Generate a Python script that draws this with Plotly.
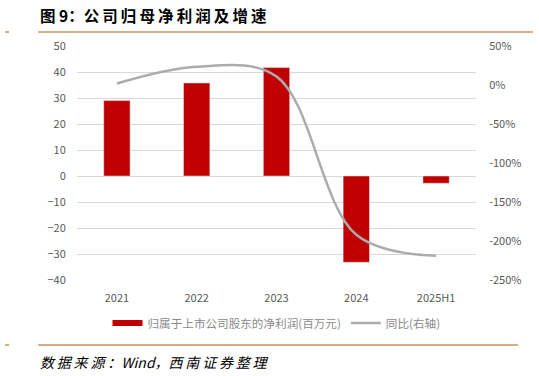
import plotly.graph_objects as go

categories = ["2021", "2022", "2023", "2024", "2025H1"]
net_profit = [29.0, 35.8, 41.7, -33.2, -2.8]
yoy_pct = [2.0, 23.5, 11.0, -192.0, -219.0]
left_ticks = [-40, -30, -20, -10, 0, 10, 20, 30, 40, 50]
right_ticks = [-250, -200, -150, -100, -50, 0, 50]
right_labels = [f"{v}%" for v in right_ticks]

W, H = 539, 376
L, R, T, B = 77, 476, 46, 280

def px(x):
    return (x - L) / (R - L)

def py(y):
    return (B - y) / (B - T)

fig = go.Figure()
fig.add_trace(go.Bar(x=categories, y=net_profit, marker_color="#c00000",
                     width=0.33, showlegend=False, yaxis="y"))
fig.add_trace(go.Scatter(x=[None], y=[None], mode="lines",
                         line=dict(color="#c00000", width=6),
                         name="归属于上市公司股东的净利润(百万元)"))
fig.add_trace(go.Scatter(x=categories, y=yoy_pct, mode="lines", yaxis="y2",
                         line=dict(color="#acacac", width=2.5, shape="spline", smoothing=1.0),
                         name="同比(右轴)"))

gold = "#c8965a"
shapes = [
    dict(type="line", xref="paper", yref="paper", x0=px(38), x1=px(533), y0=py(32), y1=py(32),
         line=dict(color=gold, width=1.5)),
    dict(type="line", xref="paper", yref="paper", x0=px(5), x1=px(9), y0=py(32), y1=py(32),
         line=dict(color=gold, width=1.5)),
    dict(type="line", xref="paper", yref="paper", x0=px(38), x1=px(518), y0=py(345), y1=py(345),
         line=dict(color=gold, width=1.5)),
    dict(type="line", xref="paper", yref="paper", x0=px(5), x1=px(9), y0=py(345), y1=py(345),
         line=dict(color=gold, width=1.5)),
]

ts = "\u2009"
title_text = "图 9：" + ts.join("公司归母净利润及增速")
source_text = ts.join("数据来源：") + "Wind，" + ts.join("西南证券整理")

annotations = [
    dict(text="<b>" + title_text + "</b>", xref="paper", yref="paper", x=px(38), y=py(15),
         xanchor="left", yanchor="middle", showarrow=False,
         font=dict(family="Noto Sans CJK SC", size=15.5, color="#000000")),
    dict(text="<i>" + source_text + "</i>", xref="paper", yref="paper", x=px(38), y=py(362),
         xanchor="left", yanchor="middle", showarrow=False,
         font=dict(family="Noto Sans CJK SC", size=14, color="#000000")),
]

fig.update_layout(
    width=W, height=H,
    margin=dict(l=L, r=W - R, t=T, b=H - B),
    paper_bgcolor="white", plot_bgcolor="white",
    font=dict(family="Noto Sans CJK SC", size=11, color="#595959"),
    bargap=0.67,
    xaxis=dict(showgrid=False, showline=False, ticks="outside", ticklen=8,
               tickcolor="rgba(0,0,0,0)", tickfont=dict(size=11, color="#595959")),
    yaxis=dict(range=[-40, 50], tickvals=left_ticks, showgrid=True, gridcolor="#d9d9d9",
               gridwidth=1, zeroline=False, ticks="outside", ticklen=8,
               tickcolor="rgba(0,0,0,0)", showline=False,
               tickfont=dict(size=11, color="#595959")),
    yaxis2=dict(range=[-250, 50], tickvals=right_ticks, ticktext=right_labels, overlaying="y",
                side="right", showgrid=False, zeroline=False, ticks="outside", ticklen=10,
                tickcolor="rgba(0,0,0,0)", showline=False,
                tickfont=dict(size=11, color="#595959")),
    legend=dict(orientation="h", x=0.5, xanchor="center", y=py(323), yanchor="middle",
                font=dict(size=11.6, color="#8a8a8a"), itemwidth=30, tracegroupgap=0),
    shapes=shapes, annotations=annotations,
)

fig.write_html("out.html", config={"displayModeBar": False},
               post_script="document.body.style.margin='0';document.body.style.padding='0';")
